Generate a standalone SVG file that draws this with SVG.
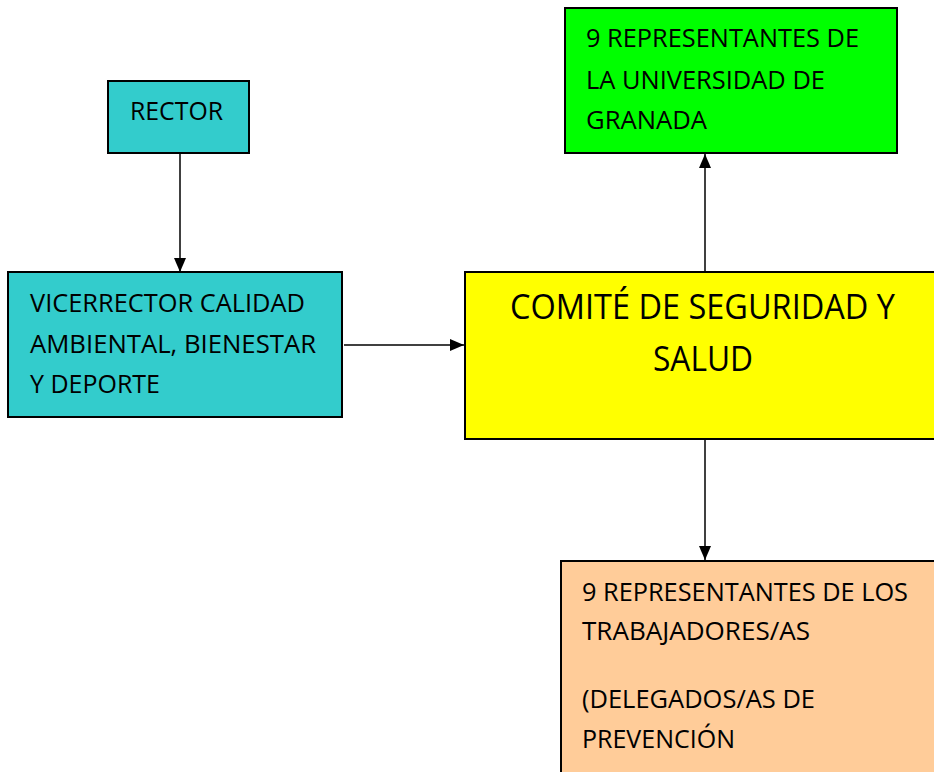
<svg xmlns="http://www.w3.org/2000/svg" width="934" height="772" viewBox="0 0 934 772">
<defs>
<style>
.box{stroke:#000;stroke-width:2}
.t{font-family:"Open Sans","Liberation Sans",sans-serif;font-size:25px;fill:#000}
.big{font-size:34px}
.c{stroke:#000;stroke-width:1.5;fill:none}
</style>
<marker id="ah" viewBox="0 0 14 12" refX="14" refY="6" markerWidth="14" markerHeight="12" markerUnits="userSpaceOnUse" orient="auto">
<path d="M0,0 L14,6 L0,12 Z" fill="#000"/>
</marker>
</defs>
<rect width="934" height="772" fill="#fff"/>
<g id="connectors">
<line class="c" x1="180" y1="153" x2="180" y2="272" marker-end="url(#ah)"/>
<line class="c" x1="344" y1="345" x2="464" y2="345" marker-end="url(#ah)"/>
<line class="c" x1="705" y1="272" x2="705" y2="154" marker-end="url(#ah)"/>
<line class="c" x1="705" y1="439" x2="705" y2="560" marker-end="url(#ah)"/>
</g>
<g id="rector">
<rect class="box" x="108" y="81" width="141" height="72" fill="#33CCCC"/>
<text class="t" x="130" y="120" textLength="93" lengthAdjust="spacingAndGlyphs">RECTOR</text>
</g>
<g id="vicerrector">
<rect class="box" x="8" y="272" width="334" height="145" fill="#33CCCC"/>
<text class="t" x="30" y="312" textLength="275" lengthAdjust="spacingAndGlyphs">VICERRECTOR CALIDAD</text>
<text class="t" x="30" y="353" textLength="286" lengthAdjust="spacingAndGlyphs">AMBIENTAL, BIENESTAR</text>
<text class="t" x="30" y="393" textLength="130" lengthAdjust="spacingAndGlyphs">Y DEPORTE</text>
</g>
<g id="comite">
<rect class="box" x="465" y="272" width="475" height="167" fill="#FFFF00"/>
<text class="t big" x="510" y="319" textLength="385" lengthAdjust="spacingAndGlyphs">COMITÉ DE SEGURIDAD Y</text>
<text class="t big" x="653" y="371" textLength="100" lengthAdjust="spacingAndGlyphs">SALUD</text>
</g>
<g id="universidad">
<rect class="box" x="565" y="8" width="332" height="145" fill="#00FF00"/>
<text class="t" x="586" y="47" textLength="273" lengthAdjust="spacingAndGlyphs">9 REPRESENTANTES DE</text>
<text class="t" x="586" y="89" textLength="239" lengthAdjust="spacingAndGlyphs">LA UNIVERSIDAD DE</text>
<text class="t" x="586" y="129" textLength="121" lengthAdjust="spacingAndGlyphs">GRANADA</text>
</g>
<g id="trabajadores">
<rect class="box" x="561" y="561" width="380" height="220" fill="#FFCC99"/>
<text class="t" x="582" y="601" textLength="326" lengthAdjust="spacingAndGlyphs">9 REPRESENTANTES DE LOS</text>
<text class="t" x="582" y="640" textLength="228" lengthAdjust="spacingAndGlyphs">TRABAJADORES/AS</text>
<text class="t" x="582" y="708" textLength="233" lengthAdjust="spacingAndGlyphs">(DELEGADOS/AS DE</text>
<text class="t" x="582" y="748" textLength="153" lengthAdjust="spacingAndGlyphs">PREVENCIÓN</text>
</g>
</svg>
